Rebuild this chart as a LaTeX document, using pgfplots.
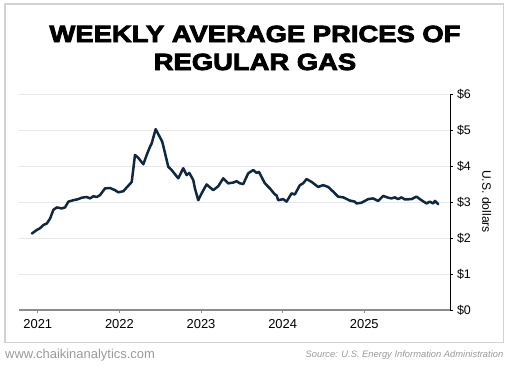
\documentclass[border=0pt]{standalone}
\usepackage{pgfplots}
\pgfplotsset{compat=1.18}
\usepackage{fontspec}
\setmainfont{Liberation Sans}
\newfontfamily\titlefont{Liberation Sans Bold}[FakeBold=3.5,FakeStretch=1.17]
\definecolor{linecol}{HTML}{0F2842}
\definecolor{gridcol}{HTML}{E8E8E8}
\definecolor{bordercol}{HTML}{D2D2D2}
\definecolor{xaxcol}{HTML}{8C8C8C}
\definecolor{footcol}{HTML}{9A9A9A}
\pgfplotstableread{
t p
2020.927 2.13
2020.988 2.23
2021.028 2.28
2021.069 2.37
2021.110 2.41
2021.151 2.55
2021.191 2.79
2021.233 2.86
2021.294 2.83
2021.334 2.86
2021.375 3.02
2021.436 3.06
2021.497 3.09
2021.539 3.13
2021.600 3.15
2021.640 3.11
2021.681 3.17
2021.722 3.15
2021.762 3.20
2021.824 3.39
2021.885 3.40
2021.946 3.34
2021.987 3.28
2022.048 3.31
2022.151 3.57
2022.191 4.32
2022.232 4.24
2022.293 4.06
2022.334 4.32
2022.375 4.55
2022.395 4.64
2022.444 5.04
2022.525 4.69
2022.599 3.99
2022.640 3.90
2022.721 3.67
2022.782 3.95
2022.824 3.76
2022.856 3.82
2022.905 3.62
2022.925 3.39
2022.966 3.06
2023.007 3.25
2023.068 3.50
2023.149 3.34
2023.211 3.45
2023.272 3.67
2023.333 3.53
2023.394 3.55
2023.436 3.59
2023.476 3.53
2023.517 3.51
2023.578 3.81
2023.640 3.90
2023.681 3.82
2023.709 3.85
2023.782 3.53
2023.843 3.39
2023.905 3.22
2023.925 3.20
2023.945 3.06
2024.006 3.09
2024.048 3.02
2024.109 3.25
2024.149 3.22
2024.211 3.48
2024.251 3.53
2024.293 3.65
2024.354 3.57
2024.435 3.43
2024.496 3.48
2024.557 3.43
2024.618 3.30
2024.679 3.16
2024.741 3.14
2024.823 3.05
2024.884 3.02
2024.905 2.97
2024.966 2.99
2025.047 3.09
2025.108 3.11
2025.169 3.04
2025.231 3.18
2025.292 3.13
2025.333 3.11
2025.373 3.14
2025.414 3.09
2025.455 3.14
2025.496 3.08
2025.578 3.09
2025.639 3.16
2025.700 3.06
2025.762 2.97
2025.803 3.02
2025.844 2.97
2025.865 3.04
2025.905 2.95
}\gasdata
\begin{document}
\begin{tikzpicture}[x=1bp,y=1bp]
\path[use as bounding box] (0,0) rectangle (511,367);
\draw[color=bordercol, line width=1.5bp] (5,24.5) rectangle (503.5,363);
\node[anchor=base, inner sep=0pt, font=\titlefont\fontsize{23.5}{23.5}\selectfont] at (255,325) {WEEKLY AVERAGE PRICES OF};
\node[anchor=base, inner sep=0pt, font=\titlefont\fontsize{23.5}{23.5}\selectfont] at (255,297) {REGULAR GAS};
\begin{axis}[
  at={(19bp,57bp)}, anchor=south west,
  scale only axis, width=431bp, height=215.3bp,
  xmin=2020.77, xmax=2026.05, ymin=0, ymax=6,
  axis x line*=bottom, axis y line*=right,
  x axis line style={-, color=xaxcol, line width=2bp},
  y axis line style={-, color=black, line width=0.8bp},
  xtick={2021,2022,2023,2024,2025},
  xticklabels={2021,2022,2023,2024,2025},
  ytick={0,1,2,3,4,5,6},
  yticklabels={\$0,\$1,\$2,\$3,\$4,\$5,\$6},
  tick align=outside,
  major tick length=3bp,
  x tick style={color=xaxcol, line width=0.8bp},
  y tick style={color=black, line width=0.8bp},
  xticklabel style={font=\fontsize{13}{15}\selectfont, text=black, yshift=-2.5bp},
  yticklabel style={font=\fontsize{12.5}{14}\selectfont, text=black, xshift=0.5bp},
  ymajorgrids, grid style={color=gridcol, line width=0.8bp},
  clip=false,
]
\addplot[color=linecol, line width=2.5bp, line join=round, line cap=round] table[x=t, y=p] {\gasdata};
\end{axis}
\node[rotate=-90, inner sep=0pt, font=\fontsize{12.2}{14}\selectfont] at (486.7,165.5) {U.S. dollars};
\node[anchor=base west, inner sep=0pt, text=footcol, font=\fontsize{13}{15}\selectfont] at (5,9) {www.chaikinanalytics.com};
\node[anchor=base east, inner sep=0pt, text=footcol, font=\itshape\fontsize{9.4}{11}\selectfont] at (503.5,9.5) {Source: U.S. Energy Information Administration};
\end{tikzpicture}
\end{document}
